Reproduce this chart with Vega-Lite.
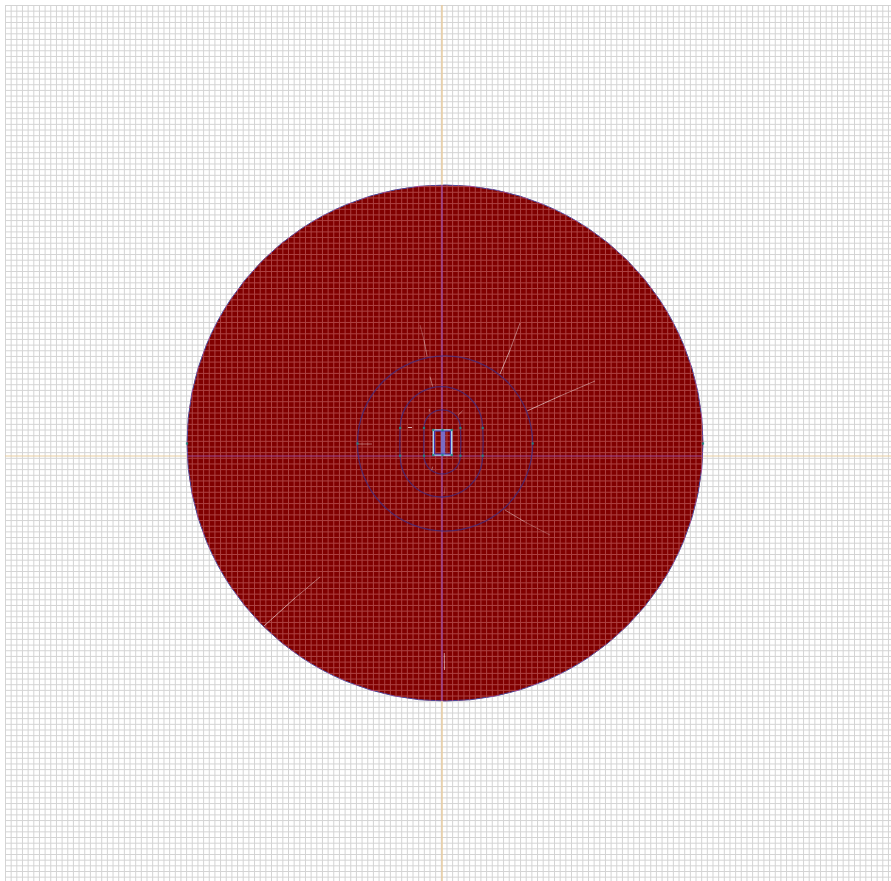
{"$schema":"https://vega.github.io/schema/vega-lite/v6.json","width":886,"height":876,"padding":{"left":5,"top":5,"right":0,"bottom":0},"autosize":{"type":"none"},"background":"white","config":{"view":{"stroke":null}},
"datasets":{
"gx":[{"g":0},{"g":1},{"g":2},{"g":3},{"g":4},{"g":5},{"g":6},{"g":7},{"g":8},{"g":9},{"g":10},{"g":11},{"g":12},{"g":13},{"g":14},{"g":15},{"g":16},{"g":17},{"g":18},{"g":19},{"g":20},{"g":21},{"g":22},{"g":23},{"g":24},{"g":25},{"g":26},{"g":27},{"g":28},{"g":29},{"g":30},{"g":31},{"g":32},{"g":33},{"g":34},{"g":35},{"g":36},{"g":37},{"g":38},{"g":39},{"g":40},{"g":41},{"g":42},{"g":43},{"g":44},{"g":45},{"g":46},{"g":47},{"g":48},{"g":49},{"g":50},{"g":51},{"g":52},{"g":53},{"g":54},{"g":55},{"g":56},{"g":57},{"g":58},{"g":59},{"g":60},{"g":61},{"g":62},{"g":63},{"g":64},{"g":65},{"g":66},{"g":67},{"g":68},{"g":69},{"g":70},{"g":71},{"g":72},{"g":73},{"g":74},{"g":75},{"g":76},{"g":77},{"g":78},{"g":79},{"g":80},{"g":81},{"g":82},{"g":83},{"g":84},{"g":85},{"g":86},{"g":87},{"g":88},{"g":89},{"g":90},{"g":91},{"g":92},{"g":93},{"g":94},{"g":95},{"g":96},{"g":97},{"g":98},{"g":99},{"g":100},{"g":101},{"g":102},{"g":103},{"g":104},{"g":105},{"g":106},{"g":107},{"g":108},{"g":109},{"g":110},{"g":111},{"g":112},{"g":113},{"g":114},{"g":115},{"g":116},{"g":117},{"g":118},{"g":119},{"g":120},{"g":121},{"g":122},{"g":123},{"g":124},{"g":125},{"g":126},{"g":127},{"g":128},{"g":129},{"g":130},{"g":131},{"g":132},{"g":133},{"g":134},{"g":135},{"g":136},{"g":137},{"g":138},{"g":139},{"g":140},{"g":141},{"g":142},{"g":143},{"g":144},{"g":145},{"g":146},{"g":147},{"g":148},{"g":149},{"g":150},{"g":151},{"g":152},{"g":153},{"g":154},{"g":155},{"g":156}],
"axes":[{"part":"v-out","x":0,"x2":0,"y":451,"y2":271},{"part":"v-in","x":0,"x2":0,"y":271,"y2":-245},{"part":"v-out","x":0,"x2":0,"y":-245,"y2":-425}],
"haxes":[{"part":"h-out","x":-437,"x2":-255,"y":0,"y2":0},{"part":"h-in","x":-255,"x2":261,"y":0,"y2":0},{"part":"h-out","x":261,"x2":449,"y":0,"y2":0}],
"spokes":[{"s":"near","x":58,"y":82,"x2":68,"y2":106},{"s":"far","x":68,"y":106,"x2":78,"y2":133},{"s":"near","x":85,"y":45,"x2":118,"y2":60},{"s":"far","x":118,"y":60,"x2":153,"y2":75},{"s":"near","x":-178,"y":-170,"x2":-147,"y2":-142},{"s":"far","x":-147,"y":-142,"x2":-122,"y2":-121},{"s":"far","x":63,"y":-54,"x2":83,"y2":-66},{"s":"faint","x":83,"y":-66,"x2":108,"y2":-79},{"s":"far","x":-15,"y":100,"x2":-18,"y2":116},{"s":"faint","x":-18,"y":116,"x2":-22,"y2":131},{"s":"near","x":2.3,"y":-197,"x2":2.5,"y2":-214},{"s":"far","x":-84,"y":12,"x2":-70,"y2":12},{"s":"strong","x":-34,"y":28.5,"x2":-30,"y2":28.5},{"s":"far","x":-9.3,"y":-10.7,"x2":-10.3,"y2":-14},{"s":"far","x":16.3,"y":41,"x2":20.7,"y2":45.3},{"s":"far","x":-12.7,"y":47,"x2":-12.7,"y2":44.3},{"s":"far","x":-12,"y":79.3,"x2":-9.3,"y2":69.3},{"s":"faint","x":3,"y":-31,"x2":2,"y2":-39}],
"rings":[{"r":"mid","o":0,"x":-41.9,"y":28},{"r":"mid","o":1,"x":-40.5,"y":38.7},{"r":"mid","o":2,"x":-36.4,"y":48.65},{"r":"mid","o":3,"x":-29.8,"y":57.2},{"r":"mid","o":4,"x":-21.25,"y":63.8},{"r":"mid","o":5,"x":-11.3,"y":67.9},{"r":"mid","o":6,"x":-0.6,"y":69.3},{"r":"mid","o":7,"x":10.1,"y":67.9},{"r":"mid","o":8,"x":20.05,"y":63.8},{"r":"mid","o":9,"x":28.6,"y":57.2},{"r":"mid","o":10,"x":35.2,"y":48.65},{"r":"mid","o":11,"x":39.3,"y":38.7},{"r":"mid","o":12,"x":40.7,"y":28},{"r":"mid","o":13,"x":40.7,"y":0.3},{"r":"mid","o":14,"x":39.3,"y":-10.4},{"r":"mid","o":15,"x":35.2,"y":-20.35},{"r":"mid","o":16,"x":28.6,"y":-28.9},{"r":"mid","o":17,"x":20.05,"y":-35.5},{"r":"mid","o":18,"x":10.1,"y":-39.6},{"r":"mid","o":19,"x":-0.6,"y":-41},{"r":"mid","o":20,"x":-11.3,"y":-39.6},{"r":"mid","o":21,"x":-21.25,"y":-35.5},{"r":"mid","o":22,"x":-29.8,"y":-28.9},{"r":"mid","o":23,"x":-36.4,"y":-20.35},{"r":"mid","o":24,"x":-40.5,"y":-10.4},{"r":"mid","o":25,"x":-41.9,"y":0.3},{"r":"mid","o":26,"x":-41.9,"y":28},
{"r":"in","o":0,"x":-18,"y":28},{"r":"in","o":1,"x":-17.4,"y":32.7},{"r":"in","o":2,"x":-15.6,"y":37.1},{"r":"in","o":3,"x":-12.7,"y":40.9},{"r":"in","o":4,"x":-8.9,"y":43.8},{"r":"in","o":5,"x":-4.5,"y":45.6},{"r":"in","o":6,"x":0.2,"y":46.2},{"r":"in","o":7,"x":4.9,"y":45.6},{"r":"in","o":8,"x":9.3,"y":43.8},{"r":"in","o":9,"x":13.1,"y":40.9},{"r":"in","o":10,"x":16,"y":37.1},{"r":"in","o":11,"x":17.8,"y":32.7},{"r":"in","o":12,"x":18.4,"y":28},{"r":"in","o":13,"x":18.4,"y":0.3},{"r":"in","o":14,"x":17.8,"y":-4.4},{"r":"in","o":15,"x":16,"y":-8.8},{"r":"in","o":16,"x":13.1,"y":-12.6},{"r":"in","o":17,"x":9.3,"y":-15.5},{"r":"in","o":18,"x":4.9,"y":-17.3},{"r":"in","o":19,"x":0.2,"y":-17.9},{"r":"in","o":20,"x":-4.5,"y":-17.3},{"r":"in","o":21,"x":-8.9,"y":-15.5},{"r":"in","o":22,"x":-12.7,"y":-12.6},{"r":"in","o":23,"x":-15.6,"y":-8.8},{"r":"in","o":24,"x":-17.4,"y":-4.4},{"r":"in","o":25,"x":-18,"y":0.3},{"r":"in","o":26,"x":-18,"y":28}],
"dots":[{"x":-8.7,"y":26},{"x":9.7,"y":26},{"x":-8.7,"y":1},{"x":9.7,"y":1},{"x":0.5,"y":26},{"x":0.5,"y":1},{"x":-18,"y":28},{"x":18.4,"y":28},{"x":-18,"y":0.3},{"x":18.4,"y":0.3},{"x":-41.9,"y":28},{"x":40.7,"y":28},{"x":-41.9,"y":0.3},{"x":40.7,"y":0.3},{"x":-84.5,"y":12.5},{"x":90.7,"y":12.5},{"x":-255,"y":12.5},{"x":261,"y":12.5}]
},
"resolve":{"scale":{"x":"independent","y":"independent"}},
"layer":[
{"data":{"name":"gx"},"mark":{"type":"rule","color":"#d4d4d4","strokeWidth":1},"encoding":{"x":{"field":"g","type":"quantitative","axis":null,"scale":{"domain":[-0.088,156.45],"nice":false,"zero":false}}}},
{"data":{"name":"gx"},"transform":[{"filter":"datum.g<=154"}],"mark":{"type":"rule","color":"#d4d4d4","strokeWidth":1},"encoding":{"y":{"field":"g","type":"quantitative","axis":null,"scale":{"domain":[-0.088,154.68],"nice":false,"zero":false,"reverse":true}}}},
{"data":{"values":[{"x":3,"y":13}]},"mark":{"type":"point","filled":true,"fill":"#800000","stroke":"#4a4a9a","strokeWidth":1,"opacity":1,"size":266256},"encoding":{"x":{"field":"x","type":"quantitative","axis":null,"scale":{"domain":[-437,449],"nice":false,"zero":false}},"y":{"field":"y","type":"quantitative","axis":null,"scale":{"domain":[-425,451],"nice":false,"zero":false}}}},
{"data":{"name":"gx"},"mark":{"type":"rule","color":"#ad4242","strokeWidth":1,"blend":"lighten"},"encoding":{"x":{"field":"g","type":"quantitative","axis":null,"scale":{"domain":[-0.088,156.45],"nice":false,"zero":false}}}},
{"data":{"name":"gx"},"transform":[{"filter":"datum.g<=154"}],"mark":{"type":"rule","color":"#ad4242","strokeWidth":1,"blend":"lighten"},"encoding":{"y":{"field":"g","type":"quantitative","axis":null,"scale":{"domain":[-0.088,154.68],"nice":false,"zero":false,"reverse":true}}}},
{"data":{"name":"axes"},"mark":{"type":"rule","strokeWidth":1.5},"encoding":{"x":{"field":"x","type":"quantitative","axis":null,"scale":{"domain":[-437,449],"nice":false,"zero":false}},"x2":{"field":"x2"},"y":{"field":"y","type":"quantitative","axis":null,"scale":{"domain":[-425,451],"nice":false,"zero":false}},"y2":{"field":"y2"},"color":{"field":"part","type":"nominal","legend":null,"scale":{"domain":["v-out","v-in"],"range":["#e8cda0","#a04a98"]}}}},
{"data":{"name":"haxes"},"mark":{"type":"rule","strokeWidth":1},"encoding":{"x":{"field":"x","type":"quantitative","axis":null,"scale":{"domain":[-437,449],"nice":false,"zero":false}},"x2":{"field":"x2"},"y":{"field":"y","type":"quantitative","axis":null,"scale":{"domain":[-425,451],"nice":false,"zero":false}},"y2":{"field":"y2"},"color":{"field":"part","type":"nominal","legend":null,"scale":{"domain":["h-out","h-in"],"range":["#8c8270","#d890b8"]}}}},
{"data":{"name":"spokes"},"mark":{"type":"rule","color":"#ffffff","strokeWidth":1},"encoding":{"x":{"field":"x","type":"quantitative","axis":null,"scale":{"domain":[-437,449],"nice":false,"zero":false}},"x2":{"field":"x2"},"y":{"field":"y","type":"quantitative","axis":null,"scale":{"domain":[-425,451],"nice":false,"zero":false}},"y2":{"field":"y2"},"opacity":{"field":"s","type":"nominal","legend":null,"scale":{"domain":["strong","near","far","faint"],"range":[0.7,0.25,0.1,0.05]}}}},
{"data":{"values":[{"x":3,"y":12.5}]},"mark":{"type":"point","filled":false,"stroke":"#3f2f85","strokeWidth":1.3,"opacity":0.75,"size":30700},"encoding":{"x":{"field":"x","type":"quantitative","axis":null,"scale":{"domain":[-437,449],"nice":false,"zero":false}},"y":{"field":"y","type":"quantitative","axis":null,"scale":{"domain":[-425,451],"nice":false,"zero":false}}}},
{"data":{"name":"rings"},"mark":{"type":"line","stroke":"#3f2f85","strokeWidth":1.3,"opacity":0.75,"interpolate":"catmull-rom"},"encoding":{"x":{"field":"x","type":"quantitative","axis":null,"scale":{"domain":[-437,449],"nice":false,"zero":false}},"y":{"field":"y","type":"quantitative","axis":null,"scale":{"domain":[-425,451],"nice":false,"zero":false}},"detail":{"field":"r"},"order":{"field":"o","type":"quantitative"}}},
{"data":{"values":[{"x":-1.3,"x2":3.3,"y":1,"y2":26}]},"mark":{"type":"rect","fill":"#7a6cc4"},"encoding":{"x":{"field":"x","type":"quantitative","axis":null,"scale":{"domain":[-437,449],"nice":false,"zero":false}},"x2":{"field":"x2"},"y":{"field":"y","type":"quantitative","axis":null,"scale":{"domain":[-425,451],"nice":false,"zero":false}},"y2":{"field":"y2"}}},
{"data":{"values":[{"x":-8.7,"x2":9.7,"y":1,"y2":26}]},"mark":{"type":"rect","fillOpacity":0,"stroke":"#a8d4ee","strokeWidth":1.5},"encoding":{"x":{"field":"x","type":"quantitative","axis":null,"scale":{"domain":[-437,449],"nice":false,"zero":false}},"x2":{"field":"x2"},"y":{"field":"y","type":"quantitative","axis":null,"scale":{"domain":[-425,451],"nice":false,"zero":false}},"y2":{"field":"y2"}}},
{"data":{"values":[{"x":-7.4,"x2":8.4,"y":2,"y2":25}]},"mark":{"type":"rect","fillOpacity":0,"stroke":"#3a3ac0","strokeWidth":1},"encoding":{"x":{"field":"x","type":"quantitative","axis":null,"scale":{"domain":[-437,449],"nice":false,"zero":false}},"x2":{"field":"x2"},"y":{"field":"y","type":"quantitative","axis":null,"scale":{"domain":[-425,451],"nice":false,"zero":false}},"y2":{"field":"y2"}}},
{"data":{"name":"dots"},"mark":{"type":"point","shape":"square","filled":true,"color":"#1f8a80","size":5,"opacity":0.9},"encoding":{"x":{"field":"x","type":"quantitative","axis":null,"scale":{"domain":[-437,449],"nice":false,"zero":false}},"y":{"field":"y","type":"quantitative","axis":null,"scale":{"domain":[-425,451],"nice":false,"zero":false}}}}
]}
